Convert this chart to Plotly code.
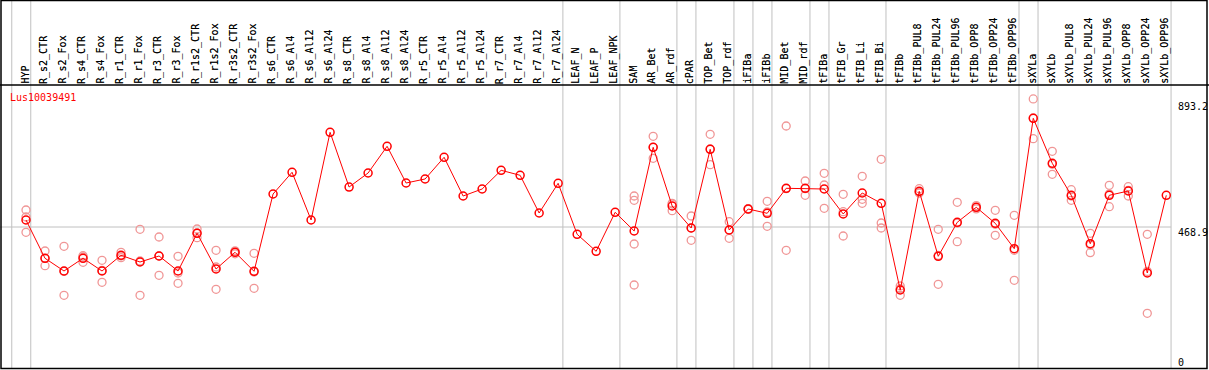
import plotly.graph_objects as go

# ---------------- data ----------------
categories = [
    "HYP", "R_s2_CTR", "R_s2_Fox", "R_s4_CTR", "R_s4_Fox", "R_r1_CTR", "R_r1_Fox",
    "R_r3_CTR", "R_r3_Fox", "R_r1s2_CTR", "R_r1s2_Fox", "R_r3s2_CTR", "R_r3s2_Fox",
    "R_s6_CTR", "R_s6_Al4", "R_s6_Al12", "R_s6_Al24", "R_s8_CTR", "R_s8_Al4",
    "R_s8_Al12", "R_s8_Al24", "R_r5_CTR", "R_r5_Al4", "R_r5_Al12", "R_r5_Al24",
    "R_r7_CTR", "R_r7_Al4", "R_r7_Al12", "R_r7_Al24", "LEAF_N", "LEAF_P", "LEAF_NPK",
    "SAM", "AR_Bet", "AR_rdf", "cPAR", "TOP_Bet", "TOP_rdf", "iFIBa", "iFIBb",
    "MID_Bet", "MID_rdf", "tFIBa", "tFIB_Gr", "tFIB_Li", "tFIB_Bi", "tFIBb",
    "tFIBb_PUL8", "tFIBb_PUL24", "tFIBb_PUL96", "tFIBb_OPP8", "tFIBb_OPP24",
    "tFIBb_OPP96", "sXYLa", "sXYLb", "sXYLb_PUL8", "sXYLb_PUL24", "sXYLb_PUL96",
    "sXYLb_OPP8", "sXYLb_OPP24", "sXYLb_OPP96",
]

means = [
    492.1, 365.2, 323.1, 365.2, 323.1, 375.1, 352.9, 372.8, 323.1, 448.0, 329.7,
    385.1, 322.1, 578.3, 650.2, 492.1, 782.7, 601.4, 647.8, 736.3, 614.7, 628.0,
    699.9, 571.6, 594.8, 656.8, 640.2, 515.3, 613.7, 444.7, 388.4, 517.6, 455.6,
    733.0, 538.5, 465.6, 726.4, 459.0, 528.5, 514.3, 597.1, 597.1, 594.8, 512.0,
    581.6, 547.4, 260.1, 587.2, 371.8, 484.5, 534.2, 481.2, 397.0, 829.1, 680.0,
    573.9, 413.6, 573.9, 588.2, 316.5, 573.9,
]

replicates = [
    [525.2, 502.0, 451.3], [389.4, 365.2, 340.7], [404.9, 321.8, 242.6],
    [373.8, 369.5, 351.9], [358.6, 325.1, 285.6], [385.1, 372.8, 367.2],
    [461.3, 356.2, 242.6], [435.8, 372.8, 308.8], [371.8, 316.5, 282.3],
    [462.3, 449.0, 433.4], [391.7, 336.3, 262.4], [390.0, 385.0, 380.0],
    [381.7, 319.8, 265.8],
    [], [], [], [], [], [], [], [], [], [], [], [], [], [], [], [],
    [], [], [],
    [571.6, 557.4, 412.6, 276.7], [769.5, 733.0, 696.6], [547.4, 545.1, 522.9],
    [505.4, 465.6, 424.8], [776.1, 727.4, 675.4], [486.5, 459.0, 431.5],
    [530.0, 528.0, 527.0], [554.1, 518.6, 471.2], [803.6, 596.1, 391.7],
    [621.3, 595.8, 573.9], [646.8, 608.1, 530.9], [577.3, 519.6, 439.1],
    [636.9, 560.7, 547.4], [693.2, 482.2, 465.6], [273.4, 264.4, 242.6],
    [595.8, 584.9, 581.6], [461.3, 375.1, 279.0], [550.7, 482.2, 420.2],
    [540.0, 534.0, 529.0], [524.2, 477.8, 441.4], [507.7, 391.7, 292.3],
    [893.2, 830.1, 761.5], [719.7, 676.7, 643.5], [592.5, 571.6, 557.4],
    [448.0, 409.3, 383.7], [607.1, 578.3, 536.2], [602.4, 590.5, 571.6],
    [444.7, 321.8, 182.9],
    [],
]

# group separators drawn after these categories (None = before the first one)
group_ends = [None, "HYP", "R_r7_Al24", "LEAF_NPK", "AR_rdf", "cPAR", "TOP_rdf",
              "iFIBa", "iFIBb", "MID_rdf", "tFIBa", "tFIB_Bi", "tFIBb_OPP96",
              "sXYLa", "sXYLb_OPP96"]

gene_name = "Lus10039491"
y_tick_values = [893.2, 468.9, 0]
y_tick_labels = ["893.2", "468.9", "0"]

# ---------------- layout geometry ----------------
W, H = 1209, 370
x0_px, step_px = 26.0, 19.005          # pixel of first category, category spacing
y0_px, scale = 368.5, 0.30177          # pixel of value 0, px per unit
x_range = [-x0_px / step_px, (W - x0_px) / step_px]
y_lo = -(H - y0_px) / scale
y_range = [y_lo, y_lo + H / scale]

def px_x(p):
    return p / W

def px_y(p):
    return 1 - p / H

FONT = "DejaVu Sans Mono"
RED = "#ff0000"
PINK = "#f09696"
GRID = "#c0c0c0"

fig = go.Figure()

rep_x, rep_y = [], []
for cat, reps in zip(categories, replicates):
    for r in reps:
        rep_x.append(cat)
        rep_y.append(r)

fig.add_trace(go.Scatter(
    x=rep_x, y=rep_y, mode="markers",
    marker=dict(symbol="circle-open", size=8, color=PINK, line=dict(width=1.3, color=PINK)),
    hoverinfo="skip", showlegend=False, cliponaxis=False,
))
fig.add_trace(go.Scatter(
    x=categories, y=means, mode="lines+markers",
    line=dict(color=RED, width=1),
    marker=dict(symbol="circle-open", size=8, color=RED, line=dict(width=1.5, color=RED)),
    showlegend=False, cliponaxis=False,
))

shapes = []
idx = {c: i for i, c in enumerate(categories)}
for g in group_ends:
    k = -1 if g is None else idx[g]
    shapes.append(dict(type="line", xref="x", yref="paper", x0=k + 0.25, x1=k + 0.25,
                       y0=px_y(369), y1=1, line=dict(color=GRID, width=1), layer="below"))
# horizontal gridline
last_sep = idx[categories[-1]] + 0.25
shapes.append(dict(type="line", xref="paper", yref="y", x0=0, x1=(x0_px + step_px * last_sep) / W,
                   y0=y_tick_values[1], y1=y_tick_values[1], line=dict(color=GRID, width=1),
                   layer="below"))
# frame
shapes.append(dict(type="rect", xref="paper", yref="paper", x0=px_x(1), x1=px_x(1207),
                   y0=px_y(368.5), y1=px_y(0.5), line=dict(color="black", width=1.5),
                   layer="above"))
shapes.append(dict(type="line", xref="paper", yref="paper", x0=0, x1=1,
                   y0=px_y(85), y1=px_y(85), line=dict(color="black", width=1.5), layer="above"))

annotations = []
for c in categories:
    annotations.append(dict(x=c, xref="x", y=px_y(86), yref="paper", text=c,
                            textangle=-90, xanchor="center", yanchor="bottom",
                            showarrow=False, xshift=-1.5,
                            font=dict(family=FONT, size=10, color="black",
                                      shadow="0 0 0.4px rgba(0,0,0,0.6)")))
annotations.append(dict(x=px_x(8), xref="paper", y=px_y(98), yref="paper", text=gene_name,
                        xanchor="left", yanchor="middle", showarrow=False,
                        font=dict(family=FONT, size=10, color=RED)))
shifts = [-8, -5.5, 6]
for v, lab, s in zip(y_tick_values, y_tick_labels, shifts):
    annotations.append(dict(x=px_x(1176), xref="paper", y=v, yref="y", text=lab,
                            xanchor="left", yanchor="middle", showarrow=False, yshift=s,
                            font=dict(family=FONT, size=10, color="black")))

fig.update_layout(
    width=W, height=H, margin=dict(l=0, r=0, t=0, b=0, pad=0),
    paper_bgcolor="white", plot_bgcolor="white",
    xaxis=dict(type="category", categoryorder="array", categoryarray=categories,
               range=x_range, visible=False, fixedrange=True),
    yaxis=dict(range=y_range, visible=False, fixedrange=True),
    shapes=shapes, annotations=annotations, showlegend=False,
)

fig.write_html("out.html", config={"displayModeBar": False},
               post_script="document.body.style.margin='0';document.body.style.overflow='hidden';")
